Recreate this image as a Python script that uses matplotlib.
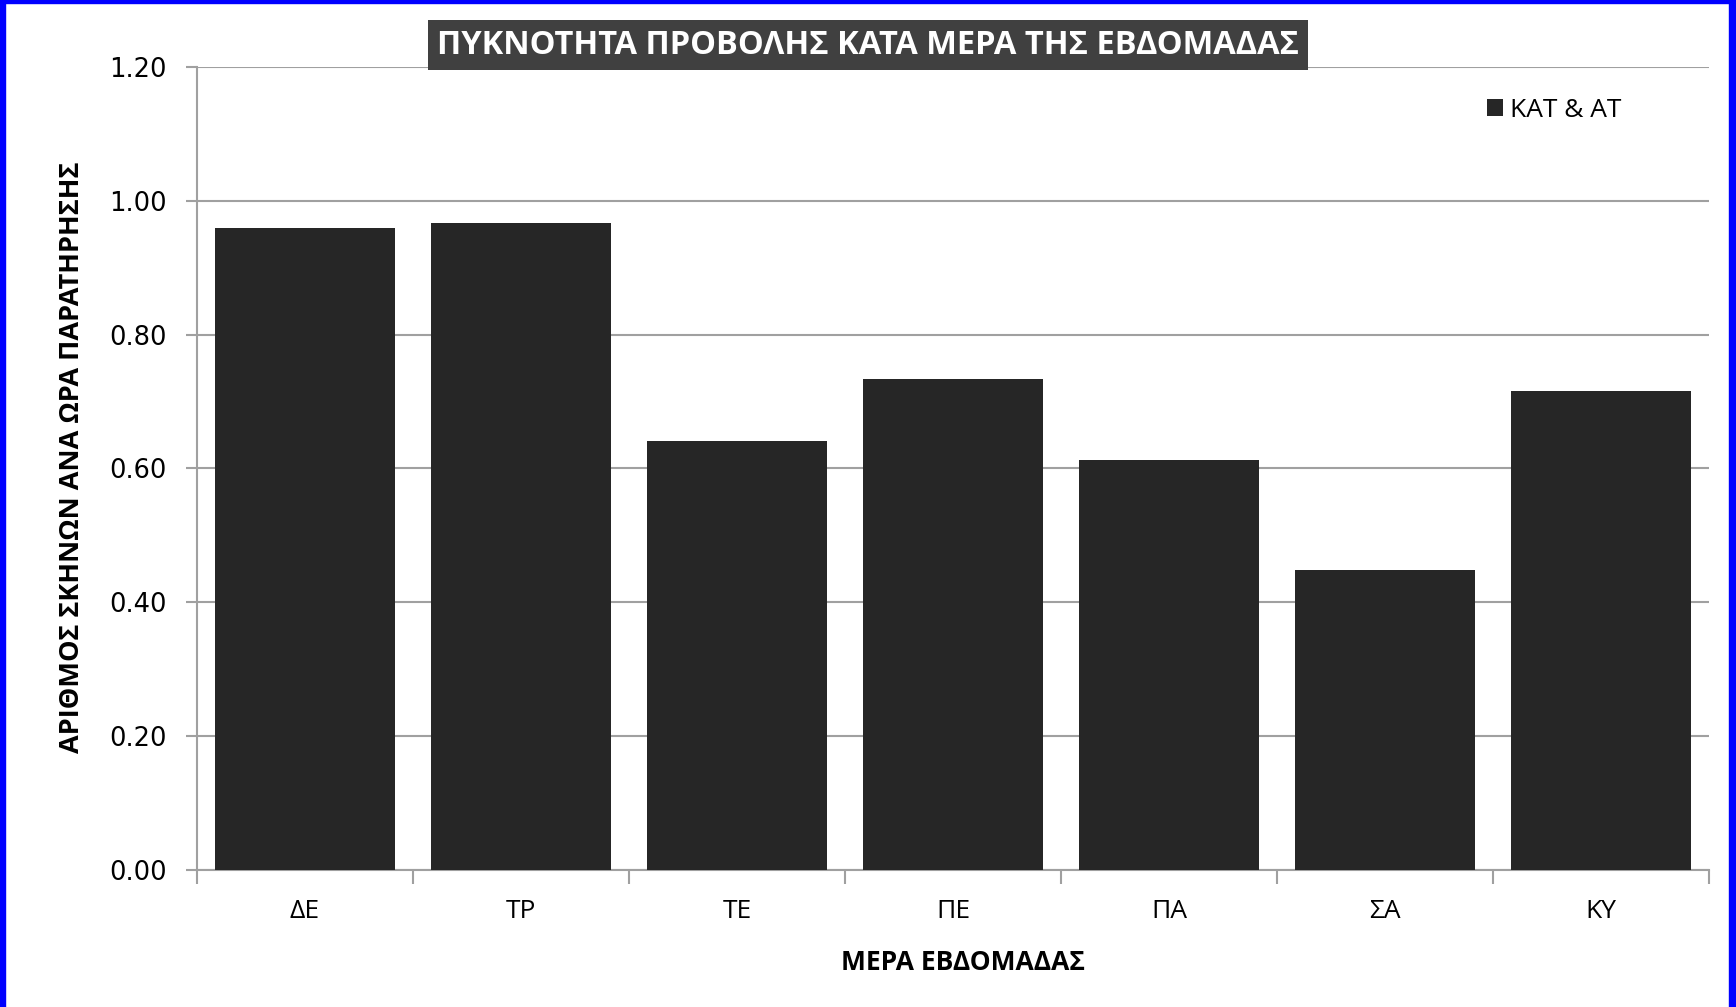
import matplotlib
matplotlib.use("Agg")
import matplotlib.pyplot as plt
from matplotlib.patches import Rectangle

days = ["ΔΕ", "ΤΡ", "ΤΕ", "ΠΕ", "ΠΑ", "ΣΑ", "ΚΥ"]
density = [0.96, 0.967, 0.641, 0.734, 0.613, 0.448, 0.716]
yticks = [0.0, 0.2, 0.4, 0.6, 0.8, 1.0, 1.2]

title = "ΠΥΚΝΟΤΗΤΑ ΠΡΟΒΟΛΗΣ ΚΑΤΑ ΜΕΡΑ ΤΗΣ ΕΒΔΟΜΑΔΑΣ"
xlabel = "ΜΕΡΑ ΕΒΔΟΜΑΔΑΣ"
ylabel = "ΑΡΙΘΜΟΣ ΣΚΗΝΩΝ ΑΝΑ ΩΡΑ ΠΑΡΑΤΗΡΗΣΗΣ"
series = "ΚΑΤ & ΑΤ"

plt.rcParams["font.family"] = ["Open Sans", "DejaVu Sans"]

W, H = 1736, 1007
fig = plt.figure(figsize=(W / 100, H / 100), dpi=100, facecolor="white")
ax = fig.add_axes([197 / W, 1 - 870 / H, (1709 - 197) / W, (870 - 67) / H])

x = list(range(len(days)))
ax.bar(x, density, width=0.835, color="#262626", zorder=3, label=series)

ax.set_xlim(-0.5, len(days) - 0.5)
ax.set_ylim(0, 1.2)
ax.set_yticks(yticks)
ax.set_yticklabels([f"{v:.2f}" for v in yticks], family="DejaVu Sans", fontsize=18.5)
ax.set_xticks(x)
ax.set_xticklabels(days, fontsize=19)
ax.set_xticks([i - 0.5 for i in range(len(days) + 1)], minor=True)
ax.tick_params(axis="x", which="major", length=0, pad=21)
ax.tick_params(axis="x", which="minor", length=10, color="#a0a0a0", width=1.5)
ax.tick_params(axis="y", length=8, color="#a0a0a0", width=1.5, pad=14)

ax.grid(axis="y", color="#a0a0a0", linewidth=1.5, zorder=0)
for s in ["top", "right"]:
    ax.spines[s].set_visible(False)
for s in ["left", "bottom"]:
    ax.spines[s].set_color("#a0a0a0")
    ax.spines[s].set_linewidth(1.5)

fig.text(0.5, 1 - 45 / H, title, ha="center", va="center", color="white",
         fontsize=23.5, fontweight="bold",
         bbox=dict(boxstyle="square,pad=0.27", facecolor="#404040", edgecolor="none"))
fig.text(963 / W, 1 - 963 / H, xlabel, ha="center", va="center",
         fontsize=19, fontweight="bold")
fig.text(72 / W, 1 - 457 / H, ylabel, ha="center", va="center", rotation=90,
         fontsize=19.5, fontweight="bold")

ax.legend(loc="upper left", bbox_to_anchor=(1463 / W, 1 - 74 / H),
          bbox_transform=fig.transFigure, frameon=False, fontsize=19,
          handlelength=0.6, handleheight=0.6, handletextpad=0.3)

# blue window frame
fig.patches.append(Rectangle((0, 0), 5 / W, 1, transform=fig.transFigure,
                             color="#0000ff", zorder=10))
fig.patches.append(Rectangle((1 - 7 / W, 0), 7 / W, 1, transform=fig.transFigure,
                             color="#0000ff", zorder=10))
fig.patches.append(Rectangle((0, 1 - 3 / H), 1, 3 / H, transform=fig.transFigure,
                             color="#0000ff", zorder=10))

fig.savefig("out.png", dpi=100, facecolor="white")
